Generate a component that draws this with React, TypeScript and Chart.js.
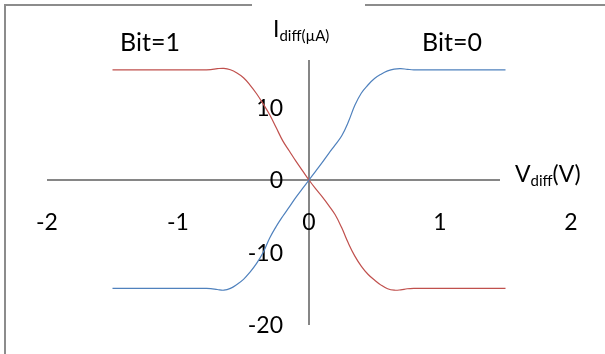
import React, { useEffect, useRef } from "react";
import { Chart, registerables } from "chart.js";

Chart.register(...registerables);

// ---- data ----
const voltages = [
  -1.5, -1.2, -0.9, -0.8, -0.75, -0.7, -0.65, -0.6, -0.55, -0.5, -0.45, -0.4, -0.35, -0.3, -0.25,
  -0.2, -0.15, -0.1, -0.05, 0, 0.05, 0.1, 0.15, 0.2, 0.25, 0.3, 0.35, 0.4, 0.45, 0.5, 0.55, 0.6,
  0.65, 0.7, 0.75, 0.8, 0.9, 1.2, 1.5,
];
const bit0Current = [
  -14.95, -14.95, -14.95, -14.95, -14.97, -15.1, -15.2, -14.95, -14.4, -13.7, -12.7, -11.5, -10.0,
  -8.0, -6.4, -5.0, -3.7, -2.4, -1.2, 0, 1.2, 2.4, 3.65, 4.85, 6.1, 8.0, 10.3, 12.0, 13.1, 14.0,
  14.6, 15.05, 15.3, 15.35, 15.27, 15.2, 15.2, 15.2, 15.2,
];
const bit1Current = [
  15.2, 15.2, 15.2, 15.2, 15.22, 15.35, 15.4, 15.2, 14.75, 14.1, 13.1, 11.9, 10.5, 9.0, 7.2, 5.4,
  4.0, 2.6, 1.3, 0, -1.2, -2.3, -3.5, -4.8, -6.6, -8.7, -10.5, -11.9, -13.0, -13.8, -14.5, -15.0,
  -15.2, -15.15, -15.0, -14.95, -14.95, -14.95, -14.95,
];
const seriesNames = ["Bit=0", "Bit=1"];
const seriesColors = ["#4F81BD", "#C0504D"];
const xTickValues = [-2, -1, 0, 1, 2];
const yTickValues = [-20, -10, 0, 10, 20];
const xRange = [-2, 2];
const yRange = [-20, 20];

const FONT = "Lato, 'Open Sans', sans-serif";

function drawRich(
  ctx: CanvasRenderingContext2D,
  parts: { t: string; size: number; dy: number }[],
  x: number,
  y: number
) {
  let cx = x;
  ctx.textAlign = "left";
  ctx.textBaseline = "alphabetic";
  for (const p of parts) {
    ctx.font = `${p.size}px ${FONT}`;
    ctx.fillText(p.t, cx, y + p.dy);
    cx += ctx.measureText(p.t).width;
  }
}

const overlayPlugin = {
  id: "overlay",
  beforeDatasetsDraw(chart: any) {
    const { ctx } = chart;
    const xs = chart.scales.x;
    const ys = chart.scales.y;
    const x0 = xs.getPixelForValue(0);
    const y0 = ys.getPixelForValue(0);
    ctx.save();
    ctx.strokeStyle = "#868686";
    ctx.lineWidth = 2;
    ctx.beginPath();
    ctx.moveTo(xs.left, y0);
    ctx.lineTo(xs.right, y0);
    ctx.moveTo(x0, ys.top);
    ctx.lineTo(x0, ys.bottom);
    ctx.stroke();

    ctx.fillStyle = "#000";
    ctx.font = `23px ${FONT}`;
    ctx.textBaseline = "alphabetic";
    ctx.textAlign = "center";
    for (const v of xTickValues) {
      ctx.fillText(String(v), xs.getPixelForValue(v), y0 + 50);
    }
    ctx.textAlign = "right";
    for (const v of yTickValues) {
      ctx.fillText(String(v), x0 - 26, ys.getPixelForValue(v) + 8);
    }
    ctx.restore();
  },
  afterDraw(chart: any) {
    const { ctx, width, height } = chart;
    ctx.save();
    // outer frame
    ctx.strokeStyle = "#8c8c8c";
    ctx.lineWidth = 2;
    ctx.beginPath();
    ctx.moveTo(5, height);
    ctx.lineTo(5, 5);
    ctx.lineTo(width, 5);
    ctx.stroke();

    // title box (white background)
    ctx.fillStyle = "#fff";
    ctx.fillRect(252, 0, 113, 60);
    // x axis title box
    ctx.fillRect(500, 150, 105, 50);

    ctx.fillStyle = "#000";
    drawRich(
      ctx,
      [
        { t: "I", size: 23, dy: 0 },
        { t: "diff(µA)", size: 15, dy: 4 },
      ],
      273,
      37
    );
    drawRich(
      ctx,
      [
        { t: "V", size: 23, dy: 0 },
        { t: "diff", size: 15, dy: 4 },
        { t: "(V)", size: 23, dy: 0 },
      ],
      515,
      182
    );

    // series labels
    ctx.font = `25px ${FONT}`;
    ctx.textAlign = "center";
    ctx.textBaseline = "alphabetic";
    ctx.fillText(seriesNames[1], 150, 51);
    ctx.fillText(seriesNames[0], 452, 51);
    ctx.restore();
  },
};

export default function App() {
  const canvasRef = useRef<HTMLCanvasElement | null>(null);

  useEffect(() => {
    const canvas = canvasRef.current;
    if (!canvas) return;
    const chart = new Chart(canvas, {
      type: "scatter",
      data: {
        datasets: [
          {
            label: seriesNames[0],
            data: voltages.map((v, i) => ({ x: v, y: bit0Current[i] })),
            showLine: true,
            borderColor: seriesColors[0],
            borderWidth: 1.2,
            pointRadius: 0,
            tension: 0.4,
          },
          {
            label: seriesNames[1],
            data: voltages.map((v, i) => ({ x: v, y: bit1Current[i] })),
            showLine: true,
            borderColor: seriesColors[1],
            borderWidth: 1.2,
            pointRadius: 0,
            tension: 0.4,
          },
        ],
      },
      options: {
        responsive: false,
        animation: false,
        devicePixelRatio: 1,
        layout: { padding: { left: 47, right: 34, top: 35, bottom: 29 } },
        scales: {
          x: { type: "linear", min: xRange[0], max: xRange[1], display: false },
          y: { type: "linear", min: yRange[0], max: yRange[1], display: false },
        },
        plugins: { legend: { display: false }, tooltip: { enabled: false } },
      },
      plugins: [overlayPlugin],
    });
    return () => chart.destroy();
  }, []);

  return (
    <div style={{ position: "fixed", left: 0, top: 0, width: 605, height: 354, background: "#fff" }}>
      <canvas ref={canvasRef} width={605} height={354} />
    </div>
  );
}
